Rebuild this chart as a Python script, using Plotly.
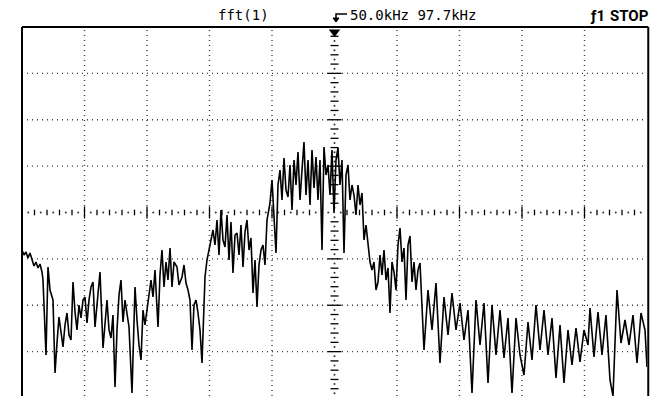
import plotly.graph_objects as go

# FFT trace: bin index (0..625 across 10 divisions) and level (counts, 46.375 per division)
bins = [0, 2, 4, 6, 8, 10, 12, 14, 16, 18, 20, 21, 24, 26, 28, 31, 33, 35, 37, 39,
        41, 43, 45, 47, 49, 51, 53, 55, 57, 59, 61, 63, 65, 67, 69, 71, 73, 75, 78, 81,
        83, 85, 87, 89, 91, 93, 95, 97, 99, 101, 103, 105, 107, 110, 113, 115, 117, 119, 121, 123,
        125, 127, 129, 131, 133, 136, 138, 140, 142, 144, 146, 148, 150, 152, 155, 157, 160, 162, 164, 166,
        168, 170, 172, 174, 176, 178, 180, 182, 183, 185, 187, 189, 191, 193, 195, 197, 199, 201, 203, 205,
        207, 209, 211, 213, 215, 217, 219, 221, 223, 225, 227, 229, 231, 233, 235, 237, 239, 241, 243, 245,
        247, 248, 250, 252, 254, 256, 258, 260, 262, 264, 266, 268, 270, 272, 274, 276, 278, 280, 282, 284,
        286, 288, 290, 292, 294, 296, 298, 300, 302, 304, 306, 308, 310, 312, 314, 316, 318, 320, 322, 324,
        326, 328, 330, 332, 334, 336, 338, 340, 342, 344, 346, 348, 350, 352, 354, 356, 358, 360, 362, 364,
        366, 368, 370, 372, 374, 376, 378, 380, 382, 384, 386, 388, 390, 392, 394, 396, 398, 402, 406, 410,
        414, 418, 422, 426, 430, 434, 438, 442, 446, 450, 454, 458, 462, 466, 470, 474, 478, 482, 486, 490,
        494, 498, 502, 506, 510, 514, 518, 522, 526, 530, 534, 538, 542, 546, 550, 554, 558, 562, 566, 568,
        572, 576, 580, 584, 588, 591, 595, 599, 603, 607, 611, 615, 619, 623, 625]
levels = [148, 143, 146, 140, 145, 138, 132, 136, 130, 134, 126, 118, 43, 131, 108, 98, 25, 55, 81, 66,
          51, 73, 85, 63, 58, 116, 86, 68, 93, 80, 98, 101, 75, 98, 111, 116, 71, 93, 126, 50,
          78, 98, 68, 60, 83, 11, 68, 103, 118, 76, 98, 83, 71, 5, 111, 78, 53, 38, 88, 73,
          91, 103, 118, 101, 128, 71, 123, 148, 111, 136, 118, 150, 111, 136, 131, 113, 121, 133, 115, 108,
          98, 48, 93, 98, 85, 68, 35, 98, 121, 138, 148, 158, 168, 153, 178, 143, 188, 158, 151, 183,
          138, 176, 125, 163, 165, 143, 173, 131, 166, 178, 148, 160, 105, 138, 91, 133, 148, 153, 133, 178,
          188, 195, 218, 183, 145, 213, 228, 198, 240, 208, 201, 233, 188, 238, 213, 246, 198, 228, 256, 203,
          238, 193, 248, 210, 241, 198, 238, 148, 251, 223, 233, 203, 248, 185, 238, 250, 213, 238, 145, 223,
          233, 198, 213, 203, 183, 213, 193, 205, 158, 173, 151, 136, 128, 136, 108, 116, 143, 123, 148, 118,
          130, 85, 136, 126, 108, 153, 170, 136, 150, 98, 153, 162, 116, 136, 108, 128, 135, 48, 108, 68,
          115, 35, 101, 63, 105, 68, 95, 58, 88, 5, 98, 53, 95, 15, 93, 43, 88, 40, 80, 5,
          80, 43, 23, 76, 38, 93, 48, 88, 43, 80, 20, 73, 15, 68, 33, 70, 36, 68, 53, 90,
          41, 86, 43, 83, 18, 2, 108, 55, 78, 53, 83, 35, 85, 68, 31]

header_left = "fft(1)"
header_mid = "50.0kHz 97.7kHz"
header_trig = "ƒ1"
header_state = "STOP"

# screen geometry
L, R, T, B = 22, 647, 27, 396
XR = [0, 625]
YR = [2, 371]
NDX, NDY = 10, 8
DX = (XR[1] - XR[0]) / NDX
DY = 371 / NDY  # 46.375 counts per division
XC, YC = 5 * DX, 4 * DY


def pxp(p):  # pixel x -> paper
    return (p - L) / (R - L)


def pyp(p):  # pixel y -> paper
    return (B - p) / (B - T)


fig = go.Figure()

# dotted grid
shapes = []
grid_style = dict(color="#3a3a3a", width=1.4, dash="1px,4px")
for k in range(1, NDX):
    if k == 5:
        continue
    shapes.append(dict(type="line", xref="x", yref="y", x0=k * DX, x1=k * DX, y0=YR[0], y1=YR[1],
                       line=grid_style, layer="below"))
for k in range(1, NDY):
    if k == 4:
        continue
    shapes.append(dict(type="line", xref="x", yref="y", x0=XR[0], x1=XR[1], y0=k * DY, y1=k * DY,
                       line=grid_style, layer="below"))

# screen border (left, top, right)
bstyle = dict(color="black", width=2)
shapes.append(dict(type="line", xref="paper", yref="paper", x0=0, x1=0, y0=-0.01, y1=1, line=bstyle))
shapes.append(dict(type="line", xref="paper", yref="paper", x0=0, x1=1.002, y0=1, y1=1, line=bstyle))
shapes.append(dict(type="line", xref="paper", yref="paper", x0=1.002, x1=1.002, y0=-0.01, y1=1, line=bstyle))

# reference arrow before the frequency readout
ax0, ax1 = pxp(336), pxp(347)
ay0, ay1 = pyp(14), pyp(19)
shapes.append(dict(type="path", xref="paper", yref="paper",
                   path=f"M {ax1} {ay0} L {ax0} {ay0} L {ax0} {ay1}",
                   line=dict(color="black", width=1.5)))
shapes.append(dict(type="path", xref="paper", yref="paper",
                   path=f"M {pxp(333)} {pyp(18)} L {pxp(339)} {pyp(18)} L {pxp(336)} {pyp(22)} Z",
                   fillcolor="black", line=dict(color="black", width=1)))

# centre axes with tick marks
tx, ty = [], []
dots_x, dots_y = [], []
for k in range(1, 50):
    x = k * DX / 5
    if k == 25:
        continue
    h = 6 if k % 5 == 0 else 2.8
    tx += [x, x, None]
    ty += [YC - h, YC + h, None]
for k in range(50):
    dots_x.append(k * DX / 5 + DX / 10)
    dots_y.append(YC)
for j in range(1, 41):
    y = j * DY / 5
    if j == 20:
        continue
    w = 7 if j % 5 == 0 else 4
    tx += [XC - w, XC + w, None]
    ty += [y, y, None]
for j in range(40):
    dots_x.append(XC)
    dots_y.append(j * DY / 5 + DY / 10)

fig.add_trace(go.Scatter(x=tx, y=ty, mode="lines", line=dict(color="black", width=1.3),
                         hoverinfo="skip", showlegend=False))
fig.add_trace(go.Scatter(x=dots_x, y=dots_y, mode="markers", marker=dict(color="#333", size=2),
                         hoverinfo="skip", showlegend=False))

# FFT trace
fig.add_trace(go.Scatter(x=bins, y=levels, mode="lines", line=dict(color="black", width=1.6),
                         showlegend=False))

# centre marker triangle at top
fig.add_trace(go.Scatter(x=[XC], y=[YR[1] - 5], mode="markers",
                         marker=dict(symbol="triangle-down", size=10, color="black"),
                         cliponaxis=False, hoverinfo="skip", showlegend=False))

mono = "DejaVu Sans Mono"
bold = "Roboto, Liberation Sans, DejaVu Sans"
ann = [
    dict(text=header_left, x=pxp(243), y=pyp(15.5), xanchor="center", yanchor="middle",
         font=dict(family=mono, size=14, color="black")),
    dict(text=header_mid, x=pxp(348), y=pyp(15.5), xanchor="left", yanchor="middle",
         font=dict(family=mono, size=14, color="black")),
    dict(text="<b>" + header_trig + "</b>", x=pxp(607), y=pyp(16), xanchor="right", yanchor="middle",
         font=dict(family=bold, size=15, color="black")),
    dict(text="<b>" + header_state + "</b>", x=pxp(651), y=pyp(16), xanchor="right", yanchor="middle",
         font=dict(family=bold, size=15, color="black")),
]
for a in ann:
    a.update(xref="paper", yref="paper", showarrow=False)

fig.update_layout(
    width=659, height=396,
    margin=dict(l=L, r=659 - R, t=T, b=0, pad=0),
    paper_bgcolor="white", plot_bgcolor="white",
    xaxis=dict(range=XR, showgrid=False, zeroline=False, showticklabels=False, ticks="",
               showline=False, fixedrange=True),
    yaxis=dict(range=YR, showgrid=False, zeroline=False, showticklabels=False, ticks="",
               showline=False, fixedrange=True),
    shapes=shapes, annotations=ann,
)

fig.write_html("out.html")
